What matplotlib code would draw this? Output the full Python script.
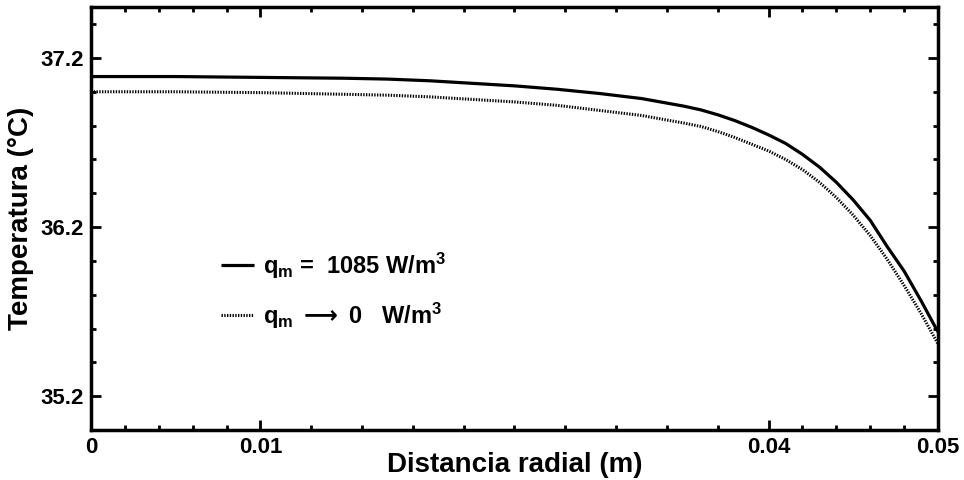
import numpy as np
import matplotlib
matplotlib.use('Agg')
import matplotlib.pyplot as plt

plt.rcParams['font.family'] = ['Liberation Sans', 'DejaVu Sans']
plt.rcParams['font.weight'] = 'bold'
plt.rcParams['mathtext.fontset'] = 'custom'
plt.rcParams['mathtext.rm'] = 'Liberation Sans:bold'
plt.rcParams['mathtext.it'] = 'Liberation Sans:bold'
plt.rcParams['mathtext.bf'] = 'Liberation Sans:bold'
plt.rcParams['mathtext.sf'] = 'DejaVu Sans'

# radial distance (m) and temperature (degC)
r = [0.0, 0.005, 0.01, 0.015, 0.0175, 0.02, 0.0225, 0.025, 0.0275, 0.03,
     0.0325, 0.035, 0.036, 0.037, 0.038, 0.039, 0.04, 0.041, 0.042, 0.043,
     0.044, 0.045, 0.046, 0.047, 0.048, 0.049, 0.05]
t_gen = [37.09, 37.09, 37.085, 37.08, 37.075, 37.065, 37.05, 37.035, 37.015, 36.99,
         36.96, 36.915, 36.893, 36.864, 36.83, 36.79, 36.745, 36.695, 36.63, 36.555,
         36.465, 36.36, 36.24, 36.085, 35.94, 35.765, 35.58]
t_zero = [37.00, 37.00, 36.995, 36.985, 36.98, 36.97, 36.955, 36.94, 36.92, 36.89,
          36.86, 36.815, 36.795, 36.765, 36.73, 36.69, 36.65, 36.60, 36.54, 36.465,
          36.375, 36.27, 36.15, 36.01, 35.855, 35.69, 35.51]

x_major = [0.0, 0.01, 0.04, 0.05]
x_labels = ['0', '0.01', '0.04', '0.05']
y_major = [35.2, 36.2, 37.2]
y_labels = ['35.2', '36.2', '37.2']

fig = plt.figure(figsize=(9.64, 4.8), dpi=100)
ax = fig.add_axes([0.0944, 0.104, 0.8786, 0.881])

ax.plot(r, t_gen, color='black', lw=2.3, solid_capstyle='butt',
        label=r'q$_m$ =  1085 W/m$^3$')
ax.plot(r, t_zero, color='black', lw=2.2, linestyle=(0, (0.45, 0.45)),
        label=r'q$_m$ $\mathsf{\longrightarrow}$ 0   W/m$^3$')

ax.set_xlim(0, 0.05)
ax.set_ylim(35.0, 37.5)

ax.set_xticks(x_major)
ax.set_xticklabels(x_labels)
x_minor = list(np.arange(0.002, 0.0099, 0.002)) + list(np.arange(0.013, 0.0399, 0.003)) \
    + list(np.arange(0.042, 0.0499, 0.002))
ax.set_xticks(x_minor, minor=True)
ax.set_yticks(y_major)
ax.set_yticklabels(y_labels)
ax.set_yticks(np.arange(35.0, 37.55, 0.2), minor=True)

ax.tick_params(which='both', direction='in', top=True, right=True,
               labelsize=16, width=2, pad=5)
ax.tick_params(which='major', length=7)
ax.tick_params(which='minor', length=3.5)
for sp in ax.spines.values():
    sp.set_linewidth(2.5)

ax.set_xlabel('Distancia radial (m)', fontsize=20, fontweight='bold', labelpad=-4)
ax.set_ylabel('Temperatura (°C)', fontsize=20, fontweight='bold', labelpad=5)

ax.legend(loc='upper left', bbox_to_anchor=(0.154, 0.425), frameon=False,
          fontsize=17, handlelength=1.4, handletextpad=0.35, labelspacing=0.85,
          borderpad=0, borderaxespad=0)

fig.savefig('out.png', dpi=100)
